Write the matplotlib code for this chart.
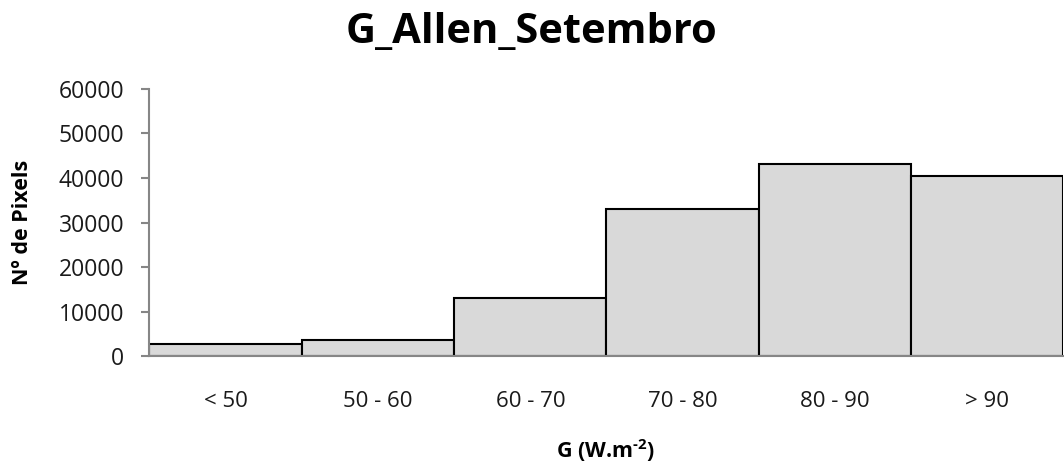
import matplotlib
matplotlib.use("Agg")
import matplotlib.pyplot as plt

categories = ["< 50", "50 - 60", "60 - 70", "70 - 80", "80 - 90", "> 90"]
counts = [2650, 3550, 13100, 33000, 43200, 40500]
yticks = [0, 10000, 20000, 30000, 40000, 50000, 60000]

plt.rcParams['font.family'] = ['Open Sans', 'DejaVu Sans']
plt.rcParams['mathtext.fontset'] = 'custom'
plt.rcParams['mathtext.rm'] = 'Open Sans:bold'
plt.rcParams['mathtext.bf'] = 'Open Sans:bold'

fig = plt.figure(figsize=(10.64, 4.73), dpi=100)
ax = fig.add_axes([0.1405, 0.247, 0.859, 0.565])

x = list(range(len(categories)))
ax.bar(x, counts, width=1.0, color="#d9d9d9", edgecolor="black", linewidth=1.5)
ax.set_xlim(-0.5, len(categories) - 0.5)
ax.set_ylim(0, 60000)
ax.set_yticks(yticks)
ax.set_yticklabels([str(v) for v in yticks], fontsize=16.5, color="#1a1a1a")
ax.set_xticks(x)
ax.set_xticklabels(categories, fontsize=16, color="#1a1a1a")
ax.tick_params(axis="x", length=0, pad=25)
ax.tick_params(axis="y", length=6, width=1.5, color="#868686", pad=12)

for s in ["top", "right"]:
    ax.spines[s].set_visible(False)
for s in ["left", "bottom"]:
    ax.spines[s].set_color("#868686")
    ax.spines[s].set_linewidth(1.5)

fig.text(0.4995, 0.909, "G_Allen_Setembro", ha="center", va="baseline",
         fontsize=30, fontweight="bold", color="black")
fig.text(0.0216, 0.5296, "Nº de Pixels", rotation=90, ha="center", va="center",
         fontsize=15.5, fontweight="bold")
fig.text(0.569, 0.0317, r"G (W.m$^{\text{-2}}$)", ha="center", va="baseline",
         fontsize=15.5, fontweight="bold")

fig.savefig("out.png", dpi=100)
